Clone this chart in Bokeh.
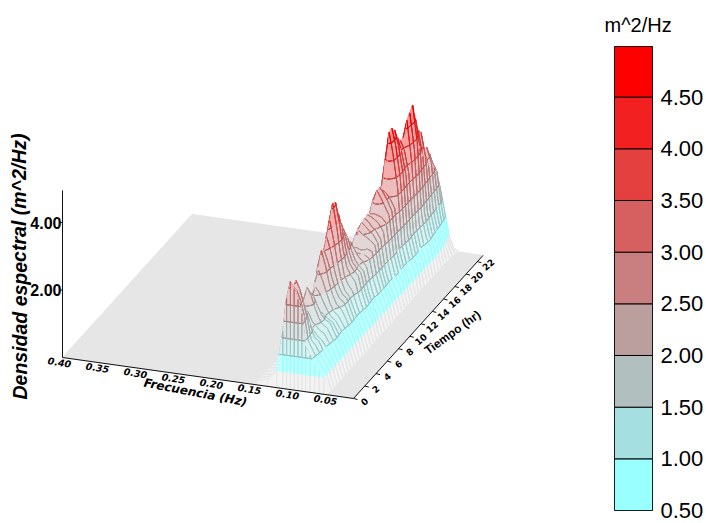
from bokeh.embed import file_html
from bokeh.resources import INLINE
from bokeh.plotting import figure
from bokeh.layouts import row
from bokeh.models import Range1d, LinearAxis, FixedTicker, NumeralTickFormatter, Title
from bokeh.core.properties import value

# ---- data -----------------------------------------------------------------
freqs = [.050,.056,.062,.068,.074,.080,.085,.090,.095,.100,.105,.110,.118,.130,.145]
s000=[.05,.50,.70,.85,1.10,1.35,2.30,2.70,3.00,3.20,2.70,1.70,.50,.12,.03]
s005=[.05,.52,.72,.90,1.15,1.40,2.10,2.55,2.85,2.95,2.60,1.70,.55,.14,.03]
s010=[.05,.50,.74,.95,1.20,1.35,1.95,2.40,2.80,3.05,2.75,1.75,.55,.14,.03]
s015=[.06,.52,.76,.98,1.25,1.35,1.70,2.05,2.30,2.40,2.10,1.50,.50,.12,.03]
s020=[.06,.50,.78,1.00,1.20,1.30,1.45,1.65,1.80,1.90,1.70,1.25,.45,.12,.03]
s025=[.06,.52,.80,1.04,1.28,1.36,1.48,1.60,1.85,1.95,1.75,1.25,.45,.12,.03]
s030=[.06,.54,.84,1.10,1.36,1.44,1.62,1.90,2.25,2.47,2.10,1.40,.50,.12,.03]
s035=[.06,.58,.88,1.14,1.42,1.48,1.62,1.85,2.10,2.25,1.95,1.30,.45,.12,.03]
s040=[.06,.56,.84,1.10,1.34,1.42,1.52,1.60,1.72,1.80,1.70,1.25,.45,.12,.03]
s045=[.07,.54,.82,1.08,1.30,1.40,1.58,1.80,2.05,2.20,1.95,1.35,.50,.14,.03]
s050=[.07,.54,.84,1.12,1.34,1.46,1.68,2.00,2.35,2.60,2.25,1.50,.55,.14,.03]
s055=[.07,.58,.88,1.20,1.46,1.58,1.82,2.20,2.70,3.10,2.60,1.70,.55,.14,.03]
s060=[.07,.60,.90,1.24,1.56,1.66,1.90,2.25,2.70,3.00,2.60,1.70,.60,.15,.03]
s065=[.07,.56,.86,1.22,1.58,1.70,1.94,2.35,2.90,3.30,2.85,1.85,.60,.15,.03]
s070=[.07,.54,.84,1.18,1.54,1.70,2.00,2.50,3.15,3.70,3.20,2.00,.65,.15,.03]
s075=[.07,.56,.86,1.20,1.62,1.80,2.08,2.70,3.50,4.13,3.55,2.20,.70,.15,.03]
s080=[.07,.60,.90,1.30,1.80,1.98,2.20,2.70,3.50,4.07,3.50,2.20,.75,.15,.03]
s085=[.08,.64,.94,1.36,1.90,2.04,2.22,2.60,3.20,3.65,3.15,2.00,.70,.15,.03]
s090=[.08,.62,.92,1.32,1.88,2.02,2.16,2.50,2.95,3.27,2.85,1.85,.65,.15,.03]
s095=[.08,.58,.88,1.28,1.84,1.98,2.12,2.40,2.75,2.97,2.60,1.70,.60,.15,.03]
s100=[.08,.58,.88,1.30,1.88,2.04,2.16,2.35,2.55,2.66,2.35,1.60,.55,.15,.03]
s105=[.08,.62,.94,1.38,2.02,2.12,2.12,2.15,2.20,2.19,1.95,1.40,.50,.14,.03]
s110=[.08,.66,.98,1.44,2.14,2.20,2.16,2.15,2.20,2.18,1.90,1.35,.50,.14,.03]
s115=[.08,.66,.98,1.46,2.24,2.36,2.44,2.50,2.60,2.45,2.05,1.40,.50,.14,.03]
s120=[.09,.62,.92,1.40,2.22,2.44,2.54,2.65,2.75,2.55,2.10,1.40,.50,.14,.03]
s125=[.09,.62,.90,1.38,2.24,2.46,2.56,2.70,2.78,2.55,2.10,1.40,.50,.14,.03]
s130=[.09,.66,.94,1.44,2.36,2.58,2.68,2.75,2.80,2.50,2.05,1.35,.50,.14,.03]
s135=[.09,.72,1.00,1.52,2.52,2.68,2.72,2.75,2.74,2.45,2.00,1.30,.45,.12,.03]
s140=[.09,.74,1.02,1.56,2.66,2.94,3.16,3.35,3.05,2.60,2.05,1.30,.45,.12,.03]
s145=[.09,.72,1.00,1.54,2.70,3.00,3.20,3.35,3.05,2.55,2.00,1.30,.45,.12,.03]
s150=[.10,.68,.96,1.50,2.70,2.95,3.10,3.17,2.90,2.50,1.95,1.25,.45,.12,.03]
s155=[.10,.70,.96,1.52,3.24,4.20,4.81,4.00,3.20,2.60,2.00,1.25,.45,.12,.03]
s160=[.10,.76,1.02,1.58,3.40,4.35,4.84,4.10,3.30,2.65,2.05,1.30,.45,.12,.03]
s165=[.10,.80,1.06,1.64,3.42,4.25,4.69,4.05,3.25,2.60,2.00,1.25,.45,.12,.03]
s170=[.10,.78,1.06,1.62,3.32,4.00,4.38,3.75,3.05,2.45,1.90,1.20,.40,.12,.03]
s175=[.10,.74,1.02,1.60,3.28,3.95,4.20,3.60,2.95,2.35,1.80,1.15,.40,.12,.03]
s180=[.10,.74,1.00,1.60,3.54,4.72,4.20,3.50,2.85,2.30,1.75,1.10,.38,.12,.03]
s185=[.10,.78,1.04,1.66,3.78,4.85,4.35,3.60,2.90,2.30,1.75,1.10,.38,.12,.03]
s190=[.10,.84,1.12,1.74,3.92,4.99,4.40,3.60,2.90,2.25,1.70,1.05,.38,.10,.03]
s195=[.10,.82,1.12,1.74,3.64,4.50,4.00,3.30,2.65,2.10,1.60,1.00,.35,.10,.03]
s200=[.10,.76,1.06,1.68,3.30,4.05,3.65,3.05,2.45,1.95,1.50,.95,.32,.10,.03]
s205=[.10,.72,1.02,1.64,3.18,3.90,3.50,2.90,2.35,1.85,1.40,.90,.30,.10,.03]
s210=[.08,.62,.96,1.60,2.85,3.28,3.00,2.55,2.10,1.70,1.30,.85,.30,.10,.03]
s215=[.07,.50,.90,1.56,2.85,3.28,2.95,2.50,2.05,1.65,1.25,.80,.28,.10,.03]
s220=[.06,.40,.80,1.50,2.60,3.00,2.75,2.35,1.95,1.55,1.20,.75,.25,.08,.03]
s225=[.05,.25,.65,1.38,2.40,2.65,2.45,2.10,1.75,1.40,1.10,.70,.25,.08,.03]
s230=[.03,.10,.50,1.20,1.90,2.00,1.85,1.60,1.35,1.10,.85,.55,.20,.08,.03]
spectra = [s000,s005,s010,s015,s020,s025,s030,s035,s040,s045,s050,s055,s060,s065,s070,s075,
           s080,s085,s090,s095,s100,s105,s110,s115,s120,s125,s130,s135,s140,s145,s150,s155,
           s160,s165,s170,s175,s180,s185,s190,s195,s200,s205,s210,s215,s220,s225,s230]
times = [0,.5,1,1.5,2,2.5,3,3.5,4,4.5,5,5.5,6,6.5,7,7.5,8,8.5,9,9.5,10,10.5,11,11.5,
         12,12.5,13,13.5,14,14.5,15,15.5,16,16.5,17,17.5,18,18.5,19,19.5,20,20.5,21,21.5,22,22.5,23]

levels = [0.5,1.0,1.5,2.0,2.5,3.0,3.5,4.0,4.5]
band_colors = ["#e6e6e6","#99ffff","#a5dfdf","#b1bfbf","#bb9f9f","#c97f7f","#d66060","#e54040","#f22020","#ff0000"]
bar_tops = [1.0,1.5,2.0,2.5,3.0,3.5,4.0,4.5,4.99]
bar_colors = band_colors[1:]
bar_ticks = [0.5,1.0,1.5,2.0,2.5,3.0,3.5,4.0,4.5]

freq_ticks = [0.40,0.35,0.30,0.25,0.20,0.15,0.10,0.05]
time_ticks = [0,2,4,6,8,10,12,14,16,18,20,22]
dens_ticks = [2.0,4.0]
f_hi, f_lo = 0.40, 0.017
t_max, z_max = 23.0, 4.95

# ---- oblique projection of the spectrum box onto the plot ------------------
def proj(f, t, z=0.0):
    return (62 + 759.8*(0.40-f) + 5.63*t, 357 + 107.0*(0.40-f) - 6.22*t - 33.75*z)

bounds = [-1.0] + levels + [99.0]

def clip(poly, lim, keep_above):
    out = []
    n = len(poly)
    for i in range(n):
        a, b = poly[i], poly[(i+1) % n]
        ia = a[2] >= lim if keep_above else a[2] <= lim
        ib = b[2] >= lim if keep_above else b[2] <= lim
        if ia:
            out.append(a)
        if ia != ib and b[2] != a[2]:
            w = (lim-a[2])/(b[2]-a[2])
            out.append((a[0]+w*(b[0]-a[0]), a[1]+w*(b[1]-a[1]), lim))
    return out

def mix(c, k, base=255):
    return "#%02x%02x%02x" % tuple(int(int(c[i:i+2], 16)*k + base*(1-k)) for i in (1, 3, 5))

xs, ys, fills, strokes = [], [], [], []

def put(poly, fill, stroke):
    xs.append([q[0] for q in poly]); ys.append([q[1] for q in poly])
    fills.append(fill); strokes.append(stroke)

def add_edge(a, b):
    lo, hi = sorted((a, b), key=lambda q: q[2])
    for k in range(len(bounds)-1):
        if hi[2] <= bounds[k] or lo[2] >= bounds[k+1]:
            continue
        pts = []
        for lim in (bounds[k], bounds[k+1]):
            w = 0.0 if hi[2] == lo[2] else min(1.0, max(0.0, (lim-lo[2])/(hi[2]-lo[2])))
            pts.append((lo[0]+w*(hi[0]-lo[0]), lo[1]+w*(hi[1]-lo[1]), lim))
        put(pts, "#ffffff", band_colors[k] if k < 2 else mix(band_colors[k], 0.92, 0))

def add_cell(corners, edges):
    for k in range(len(bounds)-1):
        poly = clip(clip(corners, bounds[k], True), bounds[k+1], False)
        if len(poly) < 3:
            continue
        fill = "#f3f3f3" if k == 0 else mix(band_colors[k], 0.6 if k == 1 else 0.42)
        put(poly, fill, fill)
    for a, b in edges:
        add_edge(a, b)
    for k, lv in enumerate(levels):
        if k == 0:
            continue
        above = clip(corners, lv, True)
        pts = [q for q in above if q[2] == lv]
        if len(pts) >= 2 and len(above) >= 3:
            for a, b in zip(pts[0::2], pts[1::2]):
                put([a, b], "#ffffff", mix(band_colors[k+1], 0.85, 0))

def node(i, j):
    z = spectra[i][j]
    x, y = proj(freqs[j], times[i], z)
    return (x, y, z)

for i in range(len(times)-2, -1, -1):
    for j in range(len(freqs)-2, -1, -1):
        add_cell([node(i+1, j+1), node(i+1, j), node(i, j), node(i, j+1)],
                 [(node(i+1, j), node(i+1, j+1)), (node(i, j), node(i, j+1))])
# curtain below the first record
for j in range(len(freqs)-2, -1, -1):
    a = proj(freqs[j+1], times[0]); b = proj(freqs[j], times[0])
    A = (a[0], a[1], 0.0); B = (b[0], b[1], 0.0)
    add_cell([A, B, node(0, j), node(0, j+1)], [(A, node(0, j+1)), (B, node(0, j))])

# ---- main figure -----------------------------------------------------------
p = figure(width=590, height=523, x_range=Range1d(0, 590), y_range=Range1d(510, 46),
           output_backend="svg", toolbar_location=None,
           min_border_left=0, min_border_right=0, min_border_top=46, min_border_bottom=13)
p.axis.visible = False
p.grid.visible = False
p.outline_line_color = None

floor = [proj(f_hi, 0), proj(f_lo, 0), proj(f_lo, t_max), proj(f_hi, t_max)]
p.patch([q[0] for q in floor], [q[1] for q in floor], fill_color="#e6e6e6", line_color="#e6e6e6")
p.patches(xs, ys, fill_color=fills, line_color=strokes, line_width=1)

AX = "#111111"
xa, ya = proj(f_hi, 0), proj(f_lo, 0)
p.line([xa[0], ya[0]], [xa[1], ya[1]], line_color=AX, line_width=1)
tb = proj(f_lo, t_max)
p.line([ya[0], tb[0]], [ya[1], tb[1]], line_color=AX, line_width=1)
ztop = proj(f_hi, 0, z_max)
p.line([xa[0], ztop[0]], [xa[1], ztop[1]], line_color=AX, line_width=1)

for z in dens_ticks:
    q = proj(f_hi, 0, z)
    p.segment(q[0]-2, q[1], q[0], q[1], line_color=AX)
p.text([proj(f_hi, 0, z)[0]-1 for z in dens_ticks], [proj(f_hi, 0, z)[1] for z in dens_ticks],
       text=["%.2f" % z for z in dens_ticks], text_align="right", text_baseline="middle",
       text_font=value("Liberation Sans"), text_font_style="bold", text_font_size="16px", text_color="#000000")
p.text([proj(f, 0)[0]-3 for f in freq_ticks], [proj(f, 0)[1]+5 for f in freq_ticks],
       text=["%.2f" % f for f in freq_ticks], angle=-0.16, text_align="center", text_baseline="middle",
       text_font=value("DejaVu Sans"), text_font_style="bold italic", text_font_size="9.5px", text_color="#000000")
for t in time_ticks:
    q = proj(f_lo, t)
    p.segment(q[0], q[1], q[0]+4, q[1]+1, line_color=AX)
p.text([proj(f_lo, t)[0]+11 for t in time_ticks], [proj(f_lo, t)[1]+3 for t in time_ticks],
       text=[str(t) for t in time_ticks], angle=0.7, text_align="center", text_baseline="middle",
       text_font=value("DejaVu Sans"), text_font_style="bold", text_font_size="9px", text_color="#000000")
p.text([195], [392], text=["Frecuencia (Hz)"], angle=-0.19, text_align="center", text_baseline="middle",
       text_font=value("DejaVu Sans"), text_font_style="bold italic", text_font_size="12px", text_color="#000000")
p.text([452], [332], text=["Tiempo (hr)"], angle=0.63, text_align="center", text_baseline="middle",
       text_font=value("Liberation Sans"), text_font_style="bold", text_font_size="12px", text_color="#000000")
p.text([19], [266], text=["Densidad espectral (m^2/Hz)"], angle=1.5708, text_align="center", text_baseline="middle",
       text_font=value("Liberation Sans"), text_font_style="bold italic", text_font_size="19.5px", text_color="#000000")

# ---- colour scale ----------------------------------------------------------
pb = figure(width=116, height=523, x_range=Range1d(0, 1), y_range=Range1d(0.5, 4.99),
            output_backend="svg", toolbar_location=None, x_axis_location=None, y_axis_location=None,
            min_border_left=24, min_border_right=51, min_border_top=46, min_border_bottom=13)
pb.grid.visible = False
pb.outline_line_color = "#000000"
pb.quad(left=0, right=1, bottom=[0.5]+bar_tops[:-1], top=bar_tops, fill_color=bar_colors,
        line_color="#000000", line_width=1)
ax = LinearAxis(ticker=FixedTicker(ticks=bar_ticks), formatter=NumeralTickFormatter(format="0.00"))
ax.major_tick_line_color = None
ax.minor_tick_line_color = None
ax.axis_line_color = None
ax.major_label_standoff = 2
ax.major_label_text_font = "Liberation Sans"
ax.major_label_text_font_size = "22px"
ax.major_label_text_color = "#000000"
pb.add_layout(ax, "right")
pb.add_layout(Title(text="m^2/Hz", align="left", text_font="Liberation Sans", text_font_size="20px",
                    text_font_style="normal", text_color="#000000", standoff=21, offset=-10), "above")

open("out.html", "w").write(file_html(row(p, pb), INLINE))
